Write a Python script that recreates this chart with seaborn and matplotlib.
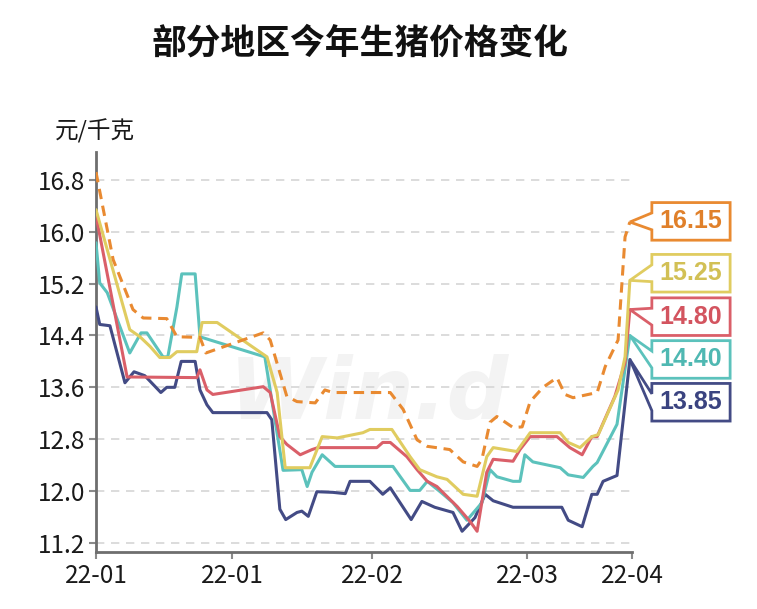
import matplotlib
matplotlib.use('Agg')
import matplotlib.pyplot as plt
import seaborn as sns
import pandas as pd
from matplotlib.patches import Polygon

# ---------------- data ----------------
title = '部分地区今年生猪价格变化'
unit_label = '元/千克'
series_names = ['地区A', '地区B', '地区C', '地区D', '地区E']
end_labels = ['16.15', '15.25', '14.80', '14.40', '13.85']

x_ticks = [0, 25.4, 51.5, 80.4, 100]
x_tick_labels = ['22-01', '22-01', '22-02', '22-03', '22-04']
y_ticks = [11.2, 12.0, 12.8, 13.6, 14.4, 15.2, 16.0, 16.8]

orange_x = [0, 3.2, 6.9, 8.8, 13.2, 15.1, 19.4, 20.5, 31.2, 32.5,
            35.6, 37.5, 40.9, 42.7, 44.2, 54.9, 57.3, 59.9, 61.8, 66.0,
            68.5, 71.1, 72.0, 73.5, 74.8, 77.8, 79.5, 81.0, 83.4, 86.0,
            87.5, 89.0, 93.5, 95.0, 97.4, 98.7, 99.6]
orange_y = [16.92, 15.57, 14.80, 14.67, 14.66, 14.38, 14.37, 14.13, 14.44, 14.33,
            13.46, 13.38, 13.36, 13.56, 13.52, 13.52, 13.26, 12.79, 12.69, 12.64,
            12.45, 12.38, 12.49, 13.06, 13.15, 12.98, 12.99, 13.38, 13.60, 13.75,
            13.49, 13.44, 13.52, 13.92, 14.33, 15.92, 16.15]

yellow_x = [0, 6.3, 8.2, 10.1, 11.9, 13.8, 15.1, 18.8, 19.8, 22.6,
            31.9, 33.8, 35.3, 39.9, 42.2, 45.0, 47.4, 49.8, 51.1, 55.2,
            58.6, 60.4, 63.6, 65.5, 68.5, 71.1, 72.9, 74.1, 78.5, 81.0,
            86.6, 88.1, 90.3, 92.5, 93.7, 97.4, 98.7, 99.6]
yellow_y = [16.34, 14.49, 14.38, 14.23, 14.06, 14.06, 14.15, 14.15, 14.60, 14.60,
            14.07, 13.52, 12.36, 12.36, 12.84, 12.82, 12.86, 12.90, 12.95, 12.95,
            12.53, 12.33, 12.22, 12.18, 11.95, 11.92, 12.53, 12.67, 12.61, 12.90,
            12.90, 12.75, 12.67, 12.84, 12.87, 13.56, 14.07, 15.25]

red_x = [0, 5.8, 18.8, 19.4, 20.7, 21.8, 31.2, 32.5, 34.3, 35.6,
         38.1, 40.3, 41.4, 52.4, 53.5, 54.9, 58.0, 59.9, 61.8, 63.6,
         67.4, 69.8, 71.1, 72.9, 74.1, 77.8, 79.1, 81.0, 86.0, 88.4,
         90.7, 92.5, 93.5, 96.8, 98.7, 99.6]
red_y = [16.25, 13.76, 13.75, 13.87, 13.56, 13.49, 13.61, 13.52, 12.84, 12.72,
         12.56, 12.64, 12.67, 12.67, 12.75, 12.75, 12.53, 12.33, 12.15, 12.07,
         11.76, 11.53, 11.38, 12.29, 12.49, 12.46, 12.64, 12.84, 12.84, 12.67,
         12.56, 12.84, 12.84, 13.46, 13.98, 14.80]

teal_x = [0, 0.7, 2.1, 6.3, 8.4, 9.5, 12.5, 13.4, 15.1, 16.0,
          18.5, 19.4, 21.3, 31.5, 34.9, 38.4, 39.4, 40.3, 42.2, 44.6,
          55.4, 58.6, 60.4, 61.8, 64.2, 66.6, 69.2, 72.0, 73.5, 74.8,
          77.8, 79.1, 80.0, 81.5, 86.6, 88.1, 90.9, 92.7, 93.5, 97.2,
          99.6]
teal_y = [15.83, 15.21, 15.06, 14.13, 14.44, 14.44, 14.07, 14.07, 14.84, 15.35,
          15.35, 14.38, 14.33, 14.07, 12.32, 12.33, 12.07, 12.29, 12.56, 12.38,
          12.38, 12.01, 12.01, 12.15, 11.99, 11.82, 11.55, 11.82, 12.33, 12.22,
          12.15, 12.15, 12.56, 12.45, 12.36, 12.25, 12.21, 12.38, 12.44, 13.03,
          14.40]

navy_x = [0, 0.7, 2.6, 5.4, 7.1, 9.1, 12.1, 13.2, 14.7, 15.9,
          18.5, 19.4, 20.7, 21.8, 31.9, 32.8, 34.3, 35.4, 37.5, 38.4,
          39.6, 41.2, 44.2, 46.5, 47.4, 51.1, 53.5, 54.9, 58.8, 60.8,
          63.2, 66.6, 68.3, 70.7, 72.6, 74.1, 77.8, 86.9, 88.1, 90.7,
          92.5, 93.5, 94.6, 97.2, 99.6]
navy_y = [14.84, 14.57, 14.55, 13.67, 13.84, 13.78, 13.52, 13.60, 13.60, 14.00,
          14.00, 13.56, 13.33, 13.21, 13.21, 13.10, 11.72, 11.56, 11.67, 11.69,
          11.61, 11.99, 11.98, 11.96, 12.15, 12.15, 11.95, 12.05, 11.56, 11.84,
          11.75, 11.67, 11.38, 11.59, 11.95, 11.85, 11.75, 11.75, 11.55, 11.45,
          11.95, 11.95, 12.15, 12.24, 14.03]

# ---------------- styles ----------------
colors = ['#E98A31', '#E0CC60', '#DA5F69', '#5CC2BC', '#434B85']
text_colors = ['#E0802A', '#D2C055', '#D3545F', '#4FB8B2', '#3A4380']
box_centers = [16.16, 15.36, 14.69, 14.03, 13.37]   # layout of callouts

xs = [orange_x, yellow_x, red_x, teal_x, navy_x]
ys = [orange_y, yellow_y, red_y, teal_y, navy_y]

frames = []
for name, x, y in zip(series_names, xs, ys):
    frames.append(pd.DataFrame({'x': x, 'y': y, 'series': name}))
df = pd.concat(frames, ignore_index=True)

sns.set_theme(style='white')
plt.rcParams['font.family'] = ['Noto Sans CJK SC', 'DejaVu Sans']

fig = plt.figure(figsize=(7.57, 6.09), dpi=100)
ax = fig.add_axes([0.1268, 0.0936, 0.7081, 0.6568])

# watermark
ax.text(51, 13.47, 'Win.d', fontsize=62, fontweight='bold', style='italic',
        color='#F3F3F3', ha='center', va='center', zorder=0,
        family=['DejaVu Sans'])

draw_order = [series_names[i] for i in [4, 3, 2, 1, 0]]
palette = dict(zip(series_names, colors))
dashes = {n: '' for n in series_names}
dashes[series_names[0]] = (3.4, 2.2)

sns.lineplot(data=df, x='x', y='y', hue='series', style='series',
             hue_order=draw_order, style_order=draw_order,
             palette=palette, dashes=dashes, sort=False, estimator=None,
             linewidth=2.2, legend=False, ax=ax, zorder=3)

ax.set_xlim(0, 100)
ax.set_ylim(11.06, 17.23)
ax.set_xticks(x_ticks)
ax.set_xticklabels(x_tick_labels)
ax.set_yticks(y_ticks)
ax.set_yticklabels([f'{v:.1f}' for v in y_ticks])
ax.set_xlabel('')
ax.set_ylabel('')

ax.yaxis.grid(True, linestyle=(0, (5, 4)), color='#D6D6D6', linewidth=1.2)
ax.xaxis.grid(False)
ax.set_axisbelow(True)

for s in ['top', 'right']:
    ax.spines[s].set_visible(False)
for s in ['left', 'bottom']:
    ax.spines[s].set_color('#6E6E6E')
    ax.spines[s].set_linewidth(2.0)

ax.tick_params(axis='both', which='major', bottom=True, left=True,
               direction='out', length=5, width=1.5, color='#8A8A8A',
               labelsize=17.5, labelcolor='#1A1A1A', pad=3)

# callouts
xl, xr = 103.7, 118.3
hh, arm = 0.29, 0.13
for i in range(len(series_names)):
    tip = (xs[i][-1], ys[i][-1])
    yc = box_centers[i]
    verts = [tip, (xl, yc + arm), (xl, yc + hh), (xr, yc + hh),
             (xr, yc - hh), (xl, yc - hh), (xl, yc - arm)]
    poly = Polygon(verts, closed=True, facecolor='white', edgecolor=colors[i],
                   linewidth=2.0, clip_on=False, zorder=5, joinstyle='miter')
    ax.add_patch(poly)
    ax.text((xl + xr) / 2, yc, end_labels[i], ha='center', va='center',
            color=text_colors[i], fontsize=18, fontweight='bold',
            family=['Liberation Sans', 'DejaVu Sans'], zorder=6, clip_on=False)

fig.text(95 / 757, 1 - 131 / 609, unit_label, ha='center', va='center',
         fontsize=17, color='#1A1A1A')
fig.text(360 / 757, 1 - 43 / 609, title, ha='center', va='center',
         fontsize=25, fontweight='bold', color='#111111')

fig.savefig('out.png', dpi=100)
